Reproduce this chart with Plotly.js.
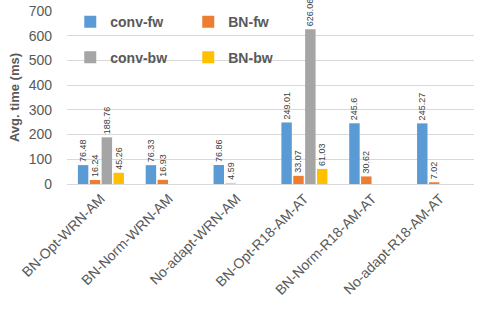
<!DOCTYPE html>
<html><head><meta charset="utf-8">
<script src="https://cdn.plot.ly/plotly-3.0.1.min.js"></script>
<style>html,body{margin:0;padding:0;background:#fff}#c{width:479px;height:312px}</style>
</head><body><div id="c"></div>
<script>
const categories = ["BN-Opt-WRN-AM","BN-Norm-WRN-AM","No-adapt-WRN-AM","BN-Opt-R18-AM-AT","BN-Norm-R18-AM-AT","No-adapt-R18-AM-AT"];
const convFw = [76.48, 76.33, 76.86, 249.01, 245.6, 245.27];
const bnFw   = [16.24, 16.93, 4.59, 33.07, 30.62, 7.02];
const convBw = [188.76, null, null, 626.06, null, null];
const bnBw   = [45.26, null, null, 61.03, null, null];
const yTicks = [0,100,200,300,400,500,600,700];

const FONT = "Liberation Sans, Arial, sans-serif";
function lbl(arr){ return arr.map(v => v === null ? "" : String(v)); }
function mk(name, vals, color, legend){
  return {type:"bar", name:name, x:categories, y:vals, text:lbl(vals),
    textposition:"outside", textangle:-90, cliponaxis:false, constraintext:"none",
    textfont:{family:FONT, size:9, color:"#404040"},
    marker:{color:color}, legend:legend, hoverinfo:"skip"};
}
const bnColors = bnFw.map((v,i)=> i===2 ? "#f7c9a8" : "#ed7d31");
const data = [
  mk("conv-fw", convFw, "#5b9bd5", "legend"),
  mk("BN-fw", bnFw, bnColors, "legend"),
  mk("conv-bw", convBw, "#a5a5a5", "legend2"),
  mk("BN-bw", bnBw, "#ffc000", "legend2")
];
const legStyle = {orientation:"h", xref:"paper", yref:"paper", x:0.008, xanchor:"left", yanchor:"middle",
  font:{family:FONT, size:14, color:"#595959", weight:"bold"}, bgcolor:"rgba(0,0,0,0)",
  entrywidth:73, itemwidth:30, tracegroupgap:0};
const layout = {
  width:479, height:312, margin:{l:67, r:5, t:11, b:128},
  paper_bgcolor:"#fff", plot_bgcolor:"#fff",
  barmode:"group", bargap:0.3, bargroupgap:0.12,
  font:{family:FONT, color:"#595959"},
  showlegend:true,
  legend:Object.assign({}, legStyle, {y:0.935}),
  legend2:Object.assign({}, legStyle, {y:0.73}),
  xaxis:{tickangle:-45, tickfont:{family:FONT, size:14, color:"#595959"}, showgrid:false,
    showline:true, linecolor:"#d9d9d9", linewidth:1, ticks:"", fixedrange:true},
  yaxis:{range:[0,700], tickvals:yTicks, ticktext:yTicks.map(String),
    tickfont:{family:FONT, size:14, color:"#595959"}, showgrid:true, gridcolor:"#d9d9d9", gridwidth:1,
    zeroline:false, showline:false, ticks:"", ticklabelstandoff:14,
    title:{text:"Avg. time (ms)", font:{family:FONT, size:13, color:"#595959", weight:"bold"}, standoff:6}}
};
Plotly.newPlot("c", data, layout, {staticPlot:true, displayModeBar:false});
</script></body></html>
